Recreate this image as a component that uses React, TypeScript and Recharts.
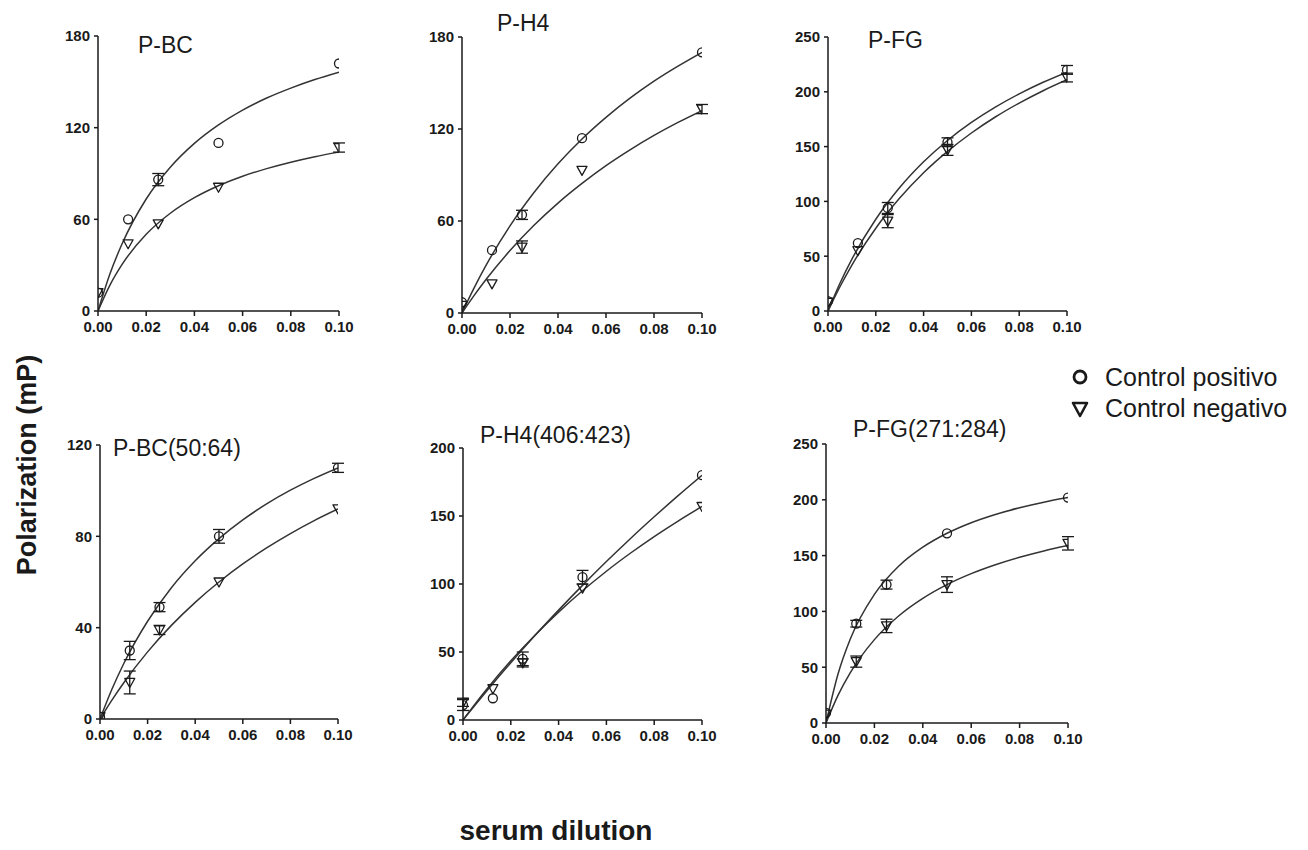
import React from "react";
import { ComposedChart, Line, Scatter, XAxis, YAxis, ErrorBar } from "recharts";

// x positions shared by every panel
const dilutions = [0, 0.0125, 0.025, 0.05, 0.1];
const curveX = [0, 0.005, 0.01, 0.02, 0.03, 0.04, 0.05, 0.06, 0.07, 0.08, 0.09, 0.1];
const xTicks = [0, 0.02, 0.04, 0.06, 0.08, 0.1];

// P-BC
const pbcPos = [12, 60, 86, 110, 162];
const pbcPosErr = [0, 0, 4, 0, 0];
const pbcNeg = [12, 44, 57, 81, 107];
const pbcNegErr = [0, 0, 0, 0, 3];
const pbcPosFit = [0, 24.5, 44, 73.3, 94.1, 109.7, 121.8, 131.5, 139.4, 145.9, 151.5, 156.3];
const pbcNegFit = [0, 17.1, 30.5, 50.2, 64, 74.2, 82, 88.2, 93.2, 97.4, 101, 104];

// P-H4
const ph4Pos = [7, 41, 64, 114, 170];
const ph4PosErr = [0, 0, 3, 0, 0];
const ph4Neg = [5, 19, 43, 93, 133];
const ph4NegErr = [0, 0, 4, 0, 3];
const ph4PosFit = [0, 16.2, 31, 56.8, 78.6, 97.3, 113.5, 127.6, 140.1, 151.2, 161, 170];
const ph4NegFit = [0, 11.3, 21.8, 40.7, 57.2, 71.7, 84.5, 96.1, 106.4, 115.8, 124.3, 132];

// P-FG
const pfgPos = [9, 62, 94, 154, 220];
const pfgPosErr = [0, 0, 5, 4, 4];
const pfgNeg = [8, 55, 82, 147, 213];
const pfgNegErr = [0, 0, 6, 5, 4];
const pfgPosFit = [0, 25.3, 47.3, 83.7, 112.6, 136.1, 155.6, 172, 186, 198.1, 208.7, 218];
const pfgNegFit = [0, 22.1, 41.9, 75.5, 103, 126.1, 145.6, 162.4, 177, 189.7, 201, 211];

// P-BC(50:64)
const pbc2Pos = [1, 30, 49, 80, 110];
const pbc2PosErr = [0, 4, 2, 3, 2];
const pbc2Neg = [1, 16, 39, 60, 92];
const pbc2NegErr = [0, 5, 2, 0, 0];
const pbc2PosFit = [0, 13, 24.3, 42.8, 57.5, 69.3, 79, 87.2, 94.2, 100.2, 105.4, 110];
const pbc2NegFit = [0, 8.3, 15.9, 29.4, 41, 51.1, 60, 67.9, 74.9, 81.2, 86.9, 92];

// P-H4(406:423)
const ph42Pos = [11, 16, 45, 105, 180];
const ph42PosErr = [4, 0, 5, 5, 0];
const ph42Neg = [13, 23, 42, 97, 157];
const ph42NegErr = [3, 0, 3, 0, 0];
const ph42PosFit = [0, 10.9, 21.5, 42.1, 61.9, 80.8, 99, 116.5, 133.3, 149.4, 165, 180];
const ph42NegFit = [0, 11.7, 22.8, 43.5, 62.2, 79.3, 95, 109.4, 122.6, 134.9, 146.3, 157];

// P-FG(271:284)
const pfg2Pos = [9, 89, 124, 170, 202];
const pfg2PosErr = [0, 3, 4, 0, 0];
const pfg2Neg = [8, 55, 87, 124, 161];
const pfg2NegErr = [0, 5, 6, 7, 6];
const pfg2PosFit = [0, 44.1, 75, 115.2, 140.4, 157.5, 170, 179.5, 186.9, 192.9, 197.9, 202];
const pfg2NegFit = [0, 25, 44.9, 74.7, 95.9, 111.7, 124, 133.8, 141.8, 148.5, 154.2, 159];

const INK = "#1a1a1a";
const FONT = "'Liberation Sans', Arial, sans-serif";

const pts = (ys: number[], errs: number[]) =>
  dilutions.map((x, i) => ({ x, y: ys[i], err: errs[i] > 0 ? errs[i] : undefined }));
const fit = (ys: number[]) => curveX.map((x, i) => ({ x, y: ys[i] }));

const CircleMark = (p: any) => (
  <circle cx={p.cx} cy={p.cy} r={4.5} fill="none" stroke={INK} strokeWidth={1.3} />
);
const TriMark = (p: any) => (
  <polygon
    points={`${p.cx - 5},${p.cy - 4} ${p.cx + 5},${p.cy - 4} ${p.cx},${p.cy + 5}`}
    fill="none"
    stroke={INK}
    strokeWidth={1.3}
    strokeLinejoin="round"
  />
);

type PanelProps = {
  left: number; top: number; right: number; bottom: number;
  yMax: number; yTicks: number[];
  pos: number[]; posErr: number[]; neg: number[]; negErr: number[];
  posFit: number[]; negFit: number[];
};

const Panel: React.FC<PanelProps> = (p) => {
  const w = p.right - p.left;
  const h = p.bottom - p.top;
  const tick = { fontSize: 15, fontWeight: 700, fill: INK, fontFamily: FONT };
  return (
    <div style={{ position: "absolute", left: p.left - 50, top: p.top - 12 }}>
      <ComposedChart width={w + 65} height={h + 44} margin={{ top: 12, right: 15, left: 0, bottom: 0 }}>
        <XAxis
          type="number"
          dataKey="x"
          domain={[0, 0.1]}
          ticks={xTicks}
          tickFormatter={(v: number) => v.toFixed(2)}
          height={32}
          stroke={INK}
          strokeWidth={1.5}
          tickSize={5}
          tickMargin={5}
          tick={tick}
          interval={0}
          allowDataOverflow
        />
        <YAxis
          type="number"
          dataKey="y"
          domain={[0, p.yMax]}
          ticks={p.yTicks}
          width={50}
          stroke={INK}
          strokeWidth={1.5}
          tickSize={4}
          tickMargin={4}
          tick={tick}
          interval={0}
          allowDataOverflow
        />
        <Line data={fit(p.posFit)} dataKey="y" type="monotone" stroke="#333" strokeWidth={1.5} dot={false} isAnimationActive={false} />
        <Line data={fit(p.negFit)} dataKey="y" type="monotone" stroke="#333" strokeWidth={1.5} dot={false} isAnimationActive={false} />
        <Scatter data={pts(p.pos, p.posErr)} dataKey="y" shape={CircleMark} isAnimationActive={false}>
          <ErrorBar dataKey="err" direction="y" width={6} stroke={INK} strokeWidth={1.3} />
        </Scatter>
        <Scatter data={pts(p.neg, p.negErr)} dataKey="y" shape={TriMark} isAnimationActive={false}>
          <ErrorBar dataKey="err" direction="y" width={6} stroke={INK} strokeWidth={1.3} />
        </Scatter>
      </ComposedChart>
    </div>
  );
};

const titles = [
  { text: "P-BC", x: 138, y: 53 },
  { text: "P-H4", x: 497, y: 31 },
  { text: "P-FG", x: 868, y: 48 },
  { text: "P-BC(50:64)", x: 113, y: 456 },
  { text: "P-H4(406:423)", x: 480, y: 443 },
  { text: "P-FG(271:284)", x: 853, y: 437 },
];

export default function App() {
  return (
    <div style={{ position: "absolute", left: 0, top: 0, width: 1308, height: 850, background: "#fff", fontFamily: FONT }}>
      <Panel left={98} top={36} right={339} bottom={311} yMax={180} yTicks={[0, 60, 120, 180]}
        pos={pbcPos} posErr={pbcPosErr} neg={pbcNeg} negErr={pbcNegErr} posFit={pbcPosFit} negFit={pbcNegFit} />
      <Panel left={462} top={37} right={702} bottom={313} yMax={180} yTicks={[0, 60, 120, 180]}
        pos={ph4Pos} posErr={ph4PosErr} neg={ph4Neg} negErr={ph4NegErr} posFit={ph4PosFit} negFit={ph4NegFit} />
      <Panel left={828} top={37} right={1067} bottom={311} yMax={250} yTicks={[0, 50, 100, 150, 200, 250]}
        pos={pfgPos} posErr={pfgPosErr} neg={pfgNeg} negErr={pfgNegErr} posFit={pfgPosFit} negFit={pfgNegFit} />
      <Panel left={100} top={445} right={338} bottom={719} yMax={120} yTicks={[0, 40, 80, 120]}
        pos={pbc2Pos} posErr={pbc2PosErr} neg={pbc2Neg} negErr={pbc2NegErr} posFit={pbc2PosFit} negFit={pbc2NegFit} />
      <Panel left={463} top={448} right={702} bottom={720} yMax={200} yTicks={[0, 50, 100, 150, 200]}
        pos={ph42Pos} posErr={ph42PosErr} neg={ph42Neg} negErr={ph42NegErr} posFit={ph42PosFit} negFit={ph42NegFit} />
      <Panel left={826} top={444} right={1068} bottom={723} yMax={250} yTicks={[0, 50, 100, 150, 200, 250]}
        pos={pfg2Pos} posErr={pfg2PosErr} neg={pfg2Neg} negErr={pfg2NegErr} posFit={pfg2PosFit} negFit={pfg2NegFit} />

      <svg width={1308} height={850} style={{ position: "absolute", left: 0, top: 0, pointerEvents: "none" }}>
        <g fontFamily={FONT} fill={INK}>
          {titles.map((t) => (
            <text key={t.text} x={t.x} y={t.y} fontSize={23}>{t.text}</text>
          ))}
          <text transform="translate(36,465) rotate(-90)" textAnchor="middle" fontSize={27} fontWeight={700}>
            Polarization (mP)
          </text>
          <text x={556} y={840} textAnchor="middle" fontSize={28} fontWeight={700}>serum dilution</text>
          <circle cx={1080} cy={377} r={6} fill="none" stroke={INK} strokeWidth={2.8} />
          <polygon points="1073,403 1087,403 1080,416" fill="none" stroke={INK} strokeWidth={2.6} strokeLinejoin="round" />
          <text x={1105} y={386} fontSize={25}>Control positivo</text>
          <text x={1105} y={417} fontSize={25}>Control negativo</text>
        </g>
      </svg>
    </div>
  );
}
